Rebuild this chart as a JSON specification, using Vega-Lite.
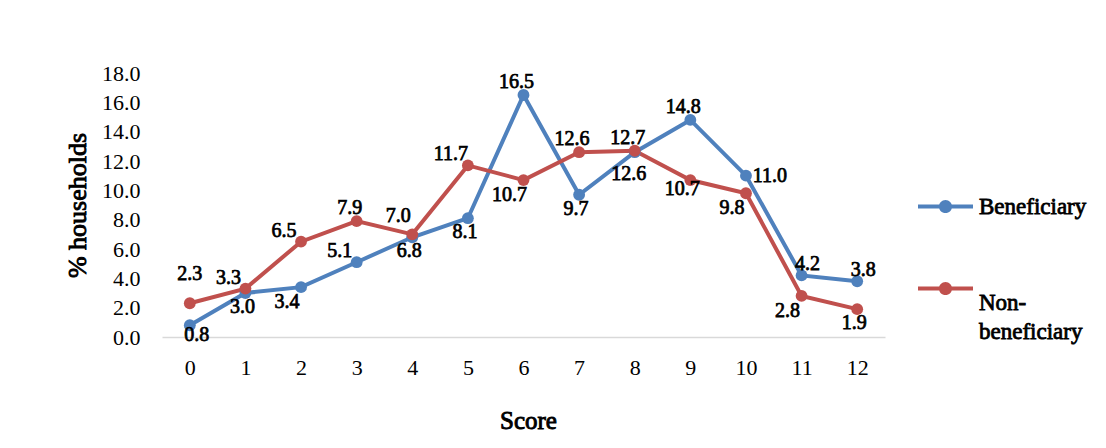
{
  "$schema": "https://vega.github.io/schema/vega-lite/v6.json",
  "width": 723,
  "height": 264,
  "autosize": {"type": "none"},
  "padding": {"left": 162, "top": 73, "right": 221, "bottom": 111},
  "background": "white",
  "config": {
    "view": {"stroke": null},
    "font": "Liberation Serif",
    "text": {"font": "Liberation Serif", "fontSize": 20, "fontWeight": "normal", "stroke": "black", "strokeWidth": 0.75, "color": "black"},
    "style": {"guide-title": {"stroke": "black", "strokeWidth": 0.9}}
  },
  "data": {
    "values": [
      {"score": 0, "series": "Beneficiary", "value": 0.8},
      {"score": 1, "series": "Beneficiary", "value": 3.0},
      {"score": 2, "series": "Beneficiary", "value": 3.4},
      {"score": 3, "series": "Beneficiary", "value": 5.1},
      {"score": 4, "series": "Beneficiary", "value": 6.8},
      {"score": 5, "series": "Beneficiary", "value": 8.1},
      {"score": 6, "series": "Beneficiary", "value": 16.5},
      {"score": 7, "series": "Beneficiary", "value": 9.7},
      {"score": 8, "series": "Beneficiary", "value": 12.6},
      {"score": 9, "series": "Beneficiary", "value": 14.8},
      {"score": 10, "series": "Beneficiary", "value": 11.0},
      {"score": 11, "series": "Beneficiary", "value": 4.2},
      {"score": 12, "series": "Beneficiary", "value": 3.8},
      {"score": 0, "series": "Non-beneficiary", "value": 2.3},
      {"score": 1, "series": "Non-beneficiary", "value": 3.3},
      {"score": 2, "series": "Non-beneficiary", "value": 6.5},
      {"score": 3, "series": "Non-beneficiary", "value": 7.9},
      {"score": 4, "series": "Non-beneficiary", "value": 7.0},
      {"score": 5, "series": "Non-beneficiary", "value": 11.7},
      {"score": 6, "series": "Non-beneficiary", "value": 10.7},
      {"score": 7, "series": "Non-beneficiary", "value": 12.6},
      {"score": 8, "series": "Non-beneficiary", "value": 12.7},
      {"score": 9, "series": "Non-beneficiary", "value": 10.7},
      {"score": 10, "series": "Non-beneficiary", "value": 9.8},
      {"score": 11, "series": "Non-beneficiary", "value": 2.8},
      {"score": 12, "series": "Non-beneficiary", "value": 1.9}
    ]
  },
  "encoding": {
    "x": {
      "field": "score",
      "type": "ordinal",
      "sort": "ascending",
      "scale": {"type": "point", "padding": 0.5},
      "axis": {
        "title": "Score",
        "labelAngle": 0,
        "labelFont": "Liberation Serif",
        "labelFontSize": 22,
        "labelColor": "black",
        "labelBaseline": "middle",
        "labelPadding": 30,
        "ticks": false,
        "domain": true,
        "domainColor": "#d9d9d9",
        "domainWidth": 1.5,
        "grid": false,
        "titleFont": "Liberation Serif",
        "titleFontSize": 25,
        "titleFontWeight": "normal",
        "titleColor": "black",
        "titleX": 366,
        "titleY": 83,
        "titleBaseline": "middle",
        "titleAlign": "center"
      }
    },
    "y": {
      "field": "value",
      "type": "quantitative",
      "scale": {"domain": [0, 18], "nice": false, "zero": true},
      "axis": {
        "title": "% households",
        "values": [0, 2, 4, 6, 8, 10, 12, 14, 16, 18],
        "format": ".1f",
        "labelFont": "Liberation Serif",
        "labelFontSize": 22,
        "labelColor": "black",
        "labelPadding": 22,
        "ticks": false,
        "domain": false,
        "grid": false,
        "titleFont": "Liberation Serif",
        "titleFontSize": 26,
        "titleFontWeight": "normal",
        "titleColor": "black",
        "titleAngle": -90,
        "titleX": -85,
        "titleY": 132,
        "titleBaseline": "middle",
        "titleAlign": "center"
      }
    },
    "color": {
      "field": "series",
      "type": "nominal",
      "scale": {"domain": ["Beneficiary", "Non-beneficiary"], "range": ["#4f81bd", "#c0504d"]},
      "legend": {
        "title": null,
        "orient": "none",
        "legendX": 756,
        "legendY": 106,
        "padding": 0,
        "symbolType": "M-1,-0.075H1V0.075H-1Z M0.24,0A0.24,0.24,0,1,1,-0.24,0A0.24,0.24,0,1,1,0.24,0Z",
        "symbolSize": 3025,
        "symbolStrokeWidth": 0,
        "symbolOpacity": 1,
        "labelFont": "Liberation Serif",
        "labelFontSize": 23,
        "labelFontWeight": "normal",
        "labelColor": "black",
        "labelOffset": 6,
        "labelLimit": 0,
        "rowPadding": 42,
        "labelExpr": "datum.value == 'Non-beneficiary' ? ['Non-', 'beneficiary'] : datum.label",
        "encode": {
          "symbols": {"update": {"fill": {"scale": "color", "field": "value"}, "fillOpacity": {"value": 1}, "strokeWidth": {"value": 0}}},
          "labels": {"update": {"lineHeight": {"value": 29}, "stroke": {"value": "black"}, "strokeWidth": {"value": 0.8}, "dy": {"signal": "datum.value == 'Non-beneficiary' ? 14.5 : 0"}}}
        }
      }
    }
  },
  "layer": [
    {"mark": {"type": "line", "strokeWidth": 4}},
    {"mark": {"type": "point", "filled": true, "size": 140, "opacity": 1}},
    {
      "transform": [{"filter": "(datum.series == 'Beneficiary' && indexof([1,4,5,7], datum.score) >= 0) || (datum.series == 'Non-beneficiary' && datum.score == 12)"}],
      "mark": {"type": "text", "dx": -3, "dy": 14},
      "encoding": {"text": {"field": "value", "type": "quantitative", "format": ".1f"}, "color": {"value": "black"}}
    },
    {
      "transform": [{"filter": "(datum.series == 'Beneficiary' && indexof([6,9], datum.score) >= 0) || (datum.series == 'Non-beneficiary' && indexof([3,7,8], datum.score) >= 0)"}],
      "mark": {"type": "text", "dx": -7, "dy": -13},
      "encoding": {"text": {"field": "value", "type": "quantitative", "format": ".1f"}, "color": {"value": "black"}}
    },
    {
      "transform": [{"filter": "(datum.series == 'Beneficiary' && datum.score == 3) || (datum.series == 'Non-beneficiary' && indexof([1,2,5], datum.score) >= 0)"}],
      "mark": {"type": "text", "dx": -17, "dy": -11},
      "encoding": {"text": {"field": "value", "type": "quantitative", "format": ".1f"}, "color": {"value": "black"}}
    },
    {
      "transform": [{"filter": "datum.series == 'Non-beneficiary' && datum.score == 4"}],
      "mark": {"type": "text", "dx": -14, "dy": -18},
      "encoding": {"text": {"field": "value", "type": "quantitative", "format": ".1f"}, "color": {"value": "black"}}
    },
    {
      "transform": [{"filter": "(datum.series == 'Beneficiary' && datum.score == 2) || (datum.series == 'Non-beneficiary' && indexof([6,10,11], datum.score) >= 0)"}],
      "mark": {"type": "text", "dx": -14, "dy": 15},
      "encoding": {"text": {"field": "value", "type": "quantitative", "format": ".1f"}, "color": {"value": "black"}}
    },
    {
      "transform": [{"filter": "datum.series == 'Non-beneficiary' && datum.score == 9"}],
      "mark": {"type": "text", "dx": -8, "dy": 9},
      "encoding": {"text": {"field": "value", "type": "quantitative", "format": ".1f"}, "color": {"value": "black"}}
    },
    {
      "transform": [{"filter": "datum.series == 'Non-beneficiary' && datum.score == 0"}],
      "mark": {"type": "text", "dx": 0, "dy": -29},
      "encoding": {"text": {"field": "value", "type": "quantitative", "format": ".1f"}, "color": {"value": "black"}}
    },
    {
      "transform": [{"filter": "datum.series == 'Beneficiary' && datum.score == 0"}],
      "mark": {"type": "text", "dx": 7, "dy": 10},
      "encoding": {"text": {"field": "value", "type": "quantitative", "format": ".1f"}, "color": {"value": "black"}}
    },
    {
      "transform": [{"filter": "datum.series == 'Beneficiary' && datum.score == 8"}],
      "mark": {"type": "text", "dx": -6, "dy": 22},
      "encoding": {"text": {"field": "value", "type": "quantitative", "format": ".1f"}, "color": {"value": "black"}}
    },
    {
      "transform": [{"filter": "datum.series == 'Beneficiary' && datum.score == 10"}],
      "mark": {"type": "text", "dx": 24, "dy": 0},
      "encoding": {"text": {"field": "value", "type": "quantitative", "format": ".1f"}, "color": {"value": "black"}}
    },
    {
      "transform": [{"filter": "datum.series == 'Beneficiary' && indexof([11,12], datum.score) >= 0"}],
      "mark": {"type": "text", "dx": 6, "dy": -11},
      "encoding": {"text": {"field": "value", "type": "quantitative", "format": ".1f"}, "color": {"value": "black"}}
    }
  ]
}
